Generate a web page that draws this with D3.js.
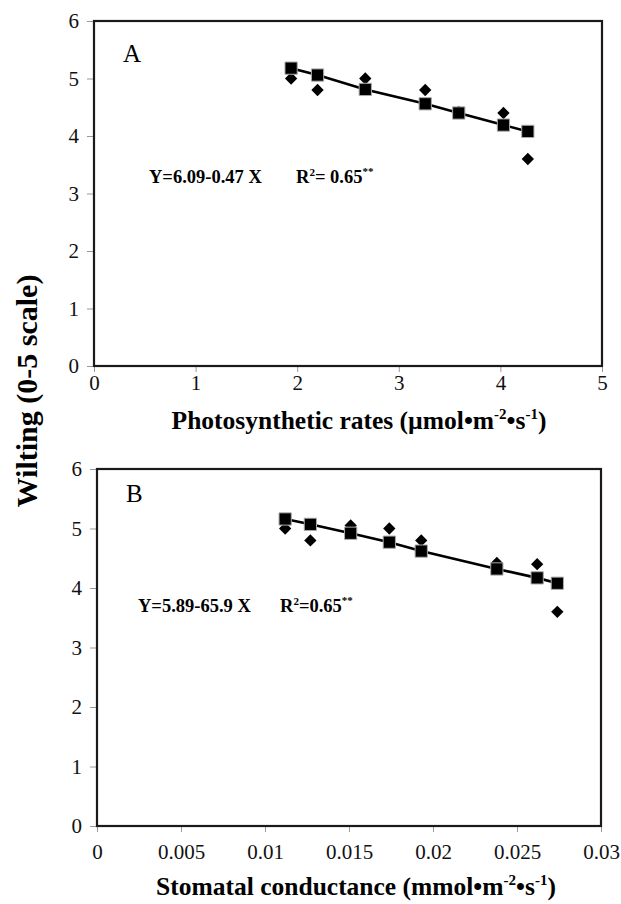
<!DOCTYPE html>
<html>
<head>
<meta charset="utf-8">
<script src="https://cdn.jsdelivr.net/npm/d3@7"></script>
<style>
  body { margin: 0; background: #fff; }
</style>
</head>
<body>
<div id="plot"></div>
<script>
// panel A: photosynthetic rate vs wilting
const photoX = [1.94, 2.20, 2.67, 3.26, 3.59, 4.03, 4.27];
const photoObs = [5.0, 4.8, 5.0, 4.8, 4.42, 4.4, 3.6];
const photoFit = [5.18, 5.06, 4.81, 4.56, 4.40, 4.19, 4.08];
const photoTicks = [0, 1, 2, 3, 4, 5];

// panel B: stomatal conductance vs wilting
const condX = [0.0112, 0.0127, 0.0151, 0.0174, 0.0193, 0.0238, 0.0262, 0.0274];
const condObs = [5.0, 4.8, 5.05, 5.0, 4.8, 4.42, 4.4, 3.6];
const condFit = [5.16, 5.07, 4.92, 4.77, 4.62, 4.32, 4.17, 4.08];
const condTicks = [0, 0.005, 0.01, 0.015, 0.02, 0.025, 0.03];

const yTicks = [0, 1, 2, 3, 4, 5, 6];

const serif = "'Liberation Serif', 'Times New Roman', serif";

const svg = d3.select("#plot")
    .append("svg")
    .attr("width", 621)
    .attr("height", 904)
    .style("font-family", serif);

function drawPanel(p) {
    const x = d3.scaleLinear().domain(p.xDomain).range([p.left, p.right]);
    const y = d3.scaleLinear().domain([0, 6]).range([p.bottom, p.top]);

    const g = svg.append("g");

    // y axis ticks
    const ya = g.append("g")
        .attr("transform", `translate(${p.left},0)`)
        .call(d3.axisLeft(y).tickValues(yTicks).tickSize(7).tickPadding(8).tickFormat(d3.format("d")));
    ya.attr("font-family", null).attr("font-size", null);
    ya.select(".domain").remove();
    ya.selectAll("line").attr("stroke", "#999");
    ya.selectAll("text")
        .style("font-family", serif)
        .style("font-size", "21px")
        .attr("fill", "#111");

    // x axis ticks
    const xa = g.append("g")
        .attr("transform", `translate(0,${p.bottom})`)
        .call(d3.axisBottom(x).tickValues(p.xTicks).tickSize(6).tickPadding(p.xPad).tickFormat(d => String(d)));
    xa.attr("font-family", null).attr("font-size", null);
    xa.select(".domain").remove();
    xa.selectAll("line").attr("stroke", "#999");
    xa.selectAll("text")
        .style("font-family", serif)
        .style("font-size", "21px")
        .attr("fill", "#111");

    // frame
    g.append("rect")
        .attr("x", p.left)
        .attr("y", p.top)
        .attr("width", p.right - p.left)
        .attr("height", p.bottom - p.top)
        .attr("fill", "none")
        .attr("stroke", "#1a1a1a")
        .attr("stroke-width", 2.2);

    // observed (diamonds)
    g.selectAll(".obs")
        .data(p.xs)
        .enter().append("path")
        .attr("d", d3.symbol(d3.symbolSquare, 76)())
        .attr("transform", (d, i) => `translate(${x(d)},${y(p.obs[i])}) rotate(45)`)
        .attr("fill", "#000");

    // regression line
    g.append("path")
        .datum(p.xs)
        .attr("fill", "none")
        .attr("stroke", "#000")
        .attr("stroke-width", 2.6)
        .attr("d", d3.line()
            .x(d => x(d))
            .y((d, i) => y(p.fit[i])));

    // predicted (squares)
    g.selectAll(".fit")
        .data(p.xs)
        .enter().append("path")
        .attr("d", d3.symbol(d3.symbolSquare, 150)())
        .attr("transform", (d, i) => `translate(${x(d)},${y(p.fit[i])})`)
        .attr("fill", "#000")
        .attr("stroke", "#aaa")
        .attr("stroke-width", 1);

    // panel letter
    g.append("text")
        .attr("x", p.left + 29)
        .attr("y", p.top + p.letterDy)
        .style("font-size", "25px")
        .text(p.letter);

    // equation
    const eq = g.append("text")
        .attr("x", p.eqX)
        .attr("y", p.eqY)
        .style("font-size", "18.5px")
        .style("font-weight", "bold");
    eq.append("tspan").text(p.eq);
    eq.append("tspan").attr("x", p.rX).text("R");
    eq.append("tspan").attr("dy", -7).style("font-size", "11px").text("2");
    eq.append("tspan").attr("dy", 7).text(p.r2);
    eq.append("tspan").attr("dy", -8).style("font-size", "11px").text("**");

    // x axis title
    const xt = g.append("text")
        .attr("x", p.titleX)
        .attr("y", p.titleY)
        .attr("text-anchor", "middle")
        .style("font-size", "25.5px")
        .style("font-weight", "bold");
    xt.append("tspan").text(p.xTitle + "•m");
    xt.append("tspan").attr("dy", -10).style("font-size", "15px").text("-2");
    xt.append("tspan").attr("dy", 10).text("•s");
    xt.append("tspan").attr("dy", -10).style("font-size", "15px").text("-1");
    xt.append("tspan").attr("dy", 10).text(")");
}

drawPanel({
    xs: photoX, obs: photoObs, fit: photoFit,
    xDomain: [0, 5], xTicks: photoTicks, xPad: 3,
    left: 94, right: 602, top: 21, bottom: 366,
    letter: "A", letterDy: 41,
    eq: "Y=6.09-0.47 X", r2: "= 0.65", eqX: 149, eqY: 183, rX: 296,
    xTitle: "Photosynthetic rates (µmol", titleX: 359, titleY: 429
});

drawPanel({
    xs: condX, obs: condObs, fit: condFit,
    xDomain: [0, 0.03], xTicks: condTicks, xPad: 12,
    left: 97, right: 601, top: 469, bottom: 826,
    letter: "B", letterDy: 33,
    eq: "Y=5.89-65.9 X", r2: "=0.65", eqX: 138, eqY: 612, rX: 280,
    xTitle: "Stomatal conductance (mmol", titleX: 356, titleY: 895
});

// shared y axis title
svg.append("text")
    .attr("transform", "translate(37,391) rotate(-90)")
    .attr("text-anchor", "middle")
    .style("font-size", "30px")
    .style("font-weight", "bold")
    .text("Wilting (0-5 scale)");
</script>
</body>
</html>
